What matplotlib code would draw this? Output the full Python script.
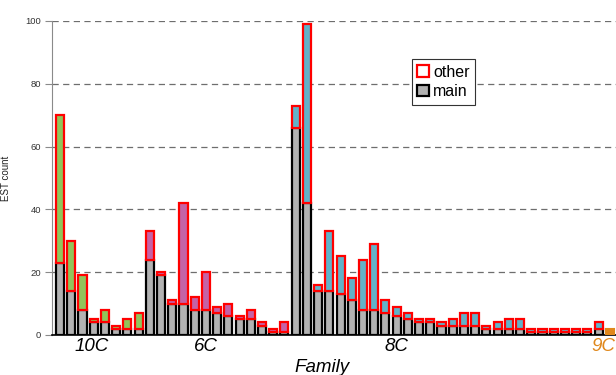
import matplotlib
matplotlib.use("Agg")
import matplotlib.pyplot as plt
from matplotlib.patches import Patch
from matplotlib.transforms import blended_transform_factory
import numpy as np

plt.rcParams["font.family"] = ["Liberation Sans", "DejaVu Sans"]

# EST counts per gene, grouped by family (main + other stacked)
FAMILY_NAMES = ["10C", "6C", "8C", "9C"]
FAMILY_SIZES = [8, 13, 28, 1]
FAMILY_COLORS = {"10C": "#92c45a", "6C": "#c562a6", "8C": "#62b2c8", "9C": "#e0881c"}

MAIN_10C = [23, 14, 8, 4, 4, 2, 2, 2]
OTHER_10C = [47, 16, 11, 1, 4, 1, 3, 5]
MAIN_6C = [24, 19, 10, 10, 8, 8, 7, 6, 5, 5, 3, 1, 1]
OTHER_6C = [9, 1, 1, 32, 4, 12, 2, 4, 1, 3, 1, 1, 3]
MAIN_8C = [66, 42, 14, 14, 13, 11, 8, 8, 7, 6, 5, 4, 4, 3, 3, 3, 3, 2, 2, 2, 2,
           1, 1, 1, 1, 1, 1, 2]
OTHER_8C = [7, 57, 2, 19, 12, 7, 16, 21, 4, 3, 2, 1, 1, 1, 2, 4, 4, 1, 2, 3, 3,
            1, 1, 1, 1, 1, 1, 2]
MAIN_9C = [0]
OTHER_9C = [2]

Y_TICKS = [0, 20, 40, 60, 80, 100]

main_vals = np.array(MAIN_10C + MAIN_6C + MAIN_8C + MAIN_9C, dtype=float)
other_vals = np.array(OTHER_10C + OTHER_6C + OTHER_8C + OTHER_9C, dtype=float)
families = [name for name, n in zip(FAMILY_NAMES, FAMILY_SIZES) for _ in range(n)]
x = np.arange(len(main_vals))

fig = plt.figure(figsize=(6.16, 3.75), dpi=100)
ax = fig.add_axes([0.0844, 0.1067, 0.9156, 0.8373])

width = 0.72
for xi, m, o, fam in zip(x, main_vals, other_vals, families):
    if fam == "9C":
        ax.bar(xi, o, width, bottom=m, color=FAMILY_COLORS[fam],
               edgecolor=FAMILY_COLORS[fam], linewidth=1.5, zorder=3)
        continue
    ax.bar(xi, m, width, color="#b2b2b2", edgecolor="black", linewidth=1.6, zorder=3)
    ax.bar(xi, o, width, bottom=m, color=FAMILY_COLORS[fam],
           edgecolor="#ff0000", linewidth=1.6, zorder=4)

ax.set_xlim(-0.72, len(x) - 0.45)
ax.set_ylim(0, 100)
ax.set_yticks(Y_TICKS)
ax.set_xticks([])
ax.yaxis.grid(True, linestyle=(0, (5, 3.5)), color="#6e6e6e", linewidth=0.9, zorder=0)
ax.set_axisbelow(True)

for side in ["top", "right"]:
    ax.spines[side].set_visible(False)
ax.spines["left"].set_color("#8a8a8a")
ax.spines["bottom"].set_color("black")
ax.spines["bottom"].set_linewidth(1.2)
ax.tick_params(axis="y", direction="out", length=5, color="#8a8a8a",
               labelsize=6.8, labelcolor="#333333", pad=3)
ax.set_ylabel("EST count", fontsize=7, color="#222222", labelpad=10)

# family labels under the bar groups
trans = blended_transform_factory(ax.transData, ax.transAxes)
label_pos = {"10C": (2.85, "center"), "6C": (13.0, "center"),
             "8C": (30.0, "center"), "9C": (49.5, "right")}
for fam in FAMILY_NAMES:
    color = FAMILY_COLORS["9C"] if fam == "9C" else "black"
    xpos, align = label_pos[fam]
    ax.text(xpos, -0.01, fam, transform=trans, ha=align, va="top",
            fontsize=13.5, fontstyle="italic", color=color, clip_on=False)
ax.text(23.35, -0.075, "Family", transform=trans, ha="center", va="top",
        fontsize=13.5, fontstyle="italic", color="black")

handles = [Patch(facecolor="white", edgecolor="#ff0000", linewidth=1.6, label="other"),
           Patch(facecolor="#b2b2b2", edgecolor="black", linewidth=1.6, label="main")]
leg = ax.legend(handles=handles, loc="upper left", bbox_to_anchor=(0.638, 0.879),
                fontsize=11.5, frameon=True, fancybox=False, framealpha=1,
                edgecolor="#333333", handlelength=0.7, handleheight=0.7,
                handletextpad=0.3, borderpad=0.35, labelspacing=0.3,
                borderaxespad=0)
leg.get_frame().set_linewidth(0.8)

fig.savefig("out.png", dpi=100)
